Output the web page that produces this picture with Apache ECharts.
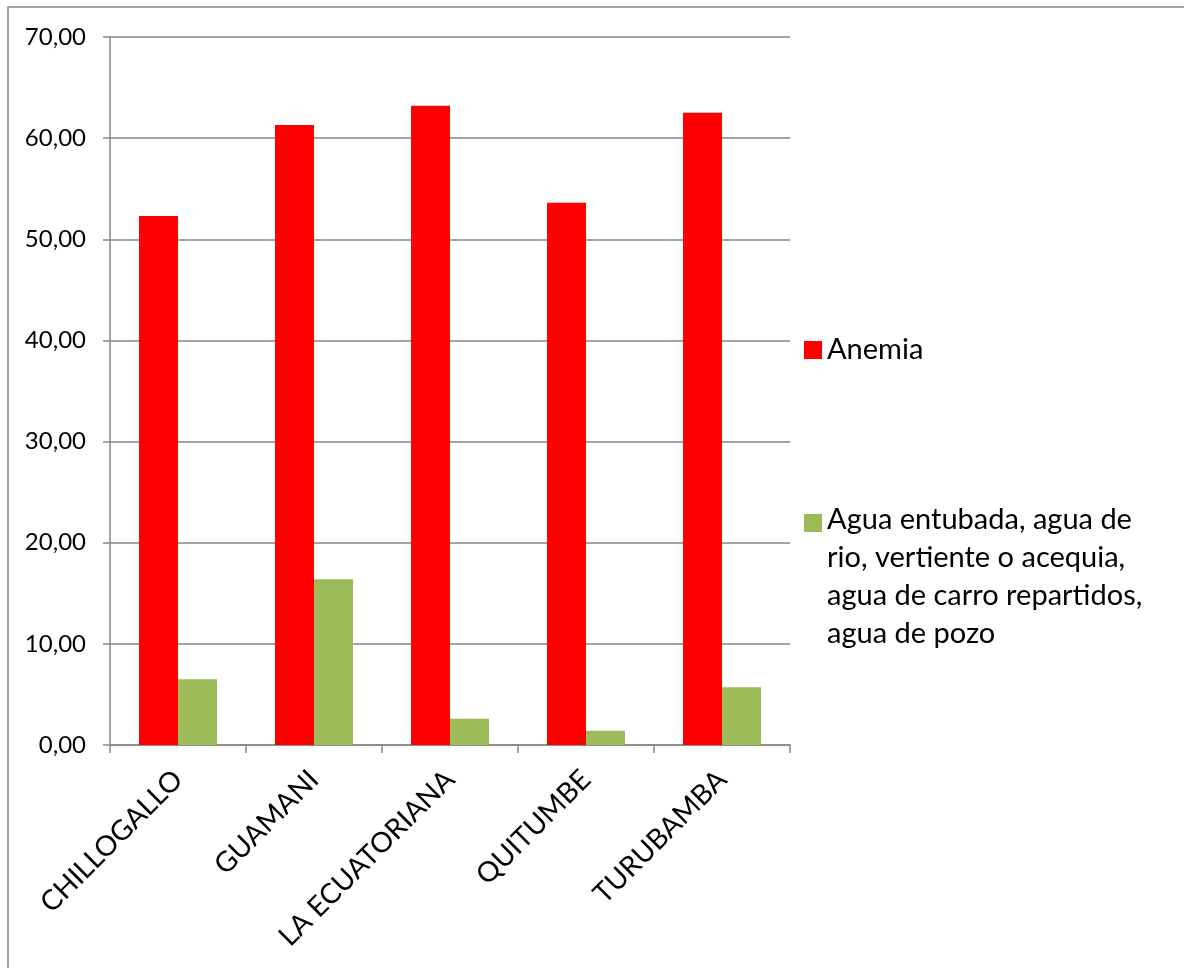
<!DOCTYPE html>
<html>
<head>
<meta charset="utf-8">
<script src="https://cdn.jsdelivr.net/npm/echarts@6/dist/echarts.min.js"></script>
<style>
html,body{margin:0;padding:0;background:#fff;}
#chart{width:1184px;height:968px;}
</style>
</head>
<body>
<div id="chart"></div>
<script>
const categories = ['CHILLOGALLO', 'GUAMANI', 'LA ECUATORIANA', 'QUITUMBE', 'TURUBAMBA'];
const anemia = [52.3, 61.3, 63.2, 53.6, 62.5];
const agua = [6.5, 16.4, 2.6, 1.4, 5.7];
const seriesNames = ['Anemia', 'Agua entubada, agua de\nrio, vertiente o acequia,\nagua de carro repartidos,\nagua de pozo'];
const yTicks = [0, 10, 20, 30, 40, 50, 60, 70];

const FONT = 'Lato';
const chart = echarts.init(document.getElementById('chart'), null, {renderer: 'canvas'});
chart.setOption({
  animation: false,
  backgroundColor: '#ffffff',
  textStyle: {fontFamily: FONT, color: '#000'},
  graphic: [{
    type: 'rect', silent: true,
    shape: {x: 8, y: 7, width: 1200, height: 1000},
    style: {fill: 'none', stroke: '#868686', lineWidth: 1.5}
  }],
  grid: {left: 110, top: 37, right: 394, bottom: 223, containLabel: false},
  legend: [{
    data: [seriesNames[0]],
    left: 799, top: 326, orient: 'vertical',
    itemWidth: 18, itemHeight: 38, itemGap: 10,
    icon: 'path://M0,0L0.001,0M0,10h18v18h-18zM0,38L0.001,38',
    textStyle: {fontFamily: FONT, fontSize: 29, color: '#000', lineHeight: 38}
  }, {
    data: [seriesNames[1]],
    left: 799, top: 496, orient: 'vertical',
    itemWidth: 18, itemHeight: 152,
    icon: 'path://M0,0L0.001,0M0,13h18v18h-18zM0,152L0.001,152',
    textStyle: {fontFamily: FONT, fontSize: 29, color: '#000', lineHeight: 38}
  }],
  xAxis: {
    type: 'category',
    data: categories,
    boundaryGap: true,
    axisLine: {lineStyle: {color: '#868686', width: 1.5}},
    axisTick: {show: true, length: 8, lineStyle: {color: '#868686', width: 1.5}},
    axisLabel: {rotate: 45, margin: 30, fontFamily: FONT, fontSize: 28, color: '#000', interval: 0}
  },
  yAxis: {
    type: 'value',
    min: 0, max: 70, interval: 10,
    axisLine: {show: true, lineStyle: {color: '#868686', width: 1.5}},
    axisTick: {show: true, length: 7, lineStyle: {color: '#868686', width: 1.5}},
    splitLine: {show: true, lineStyle: {color: '#868686', width: 1.5}},
    axisLabel: {
      margin: 24, fontFamily: FONT, fontSize: 24, color: '#000',
      formatter: v => yTicks.includes(v) ? v.toFixed(2).replace('.', ',') : ''
    }
  },
  series: [{
    name: seriesNames[0], type: 'bar', data: anemia,
    barWidth: 39, barGap: '0%',
    itemStyle: {color: '#FF0000'}
  }, {
    name: seriesNames[1], type: 'bar', data: agua,
    barWidth: 39, barGap: '0%',
    itemStyle: {color: '#9BBB59'}
  }]
});
</script>
</body>
</html>
